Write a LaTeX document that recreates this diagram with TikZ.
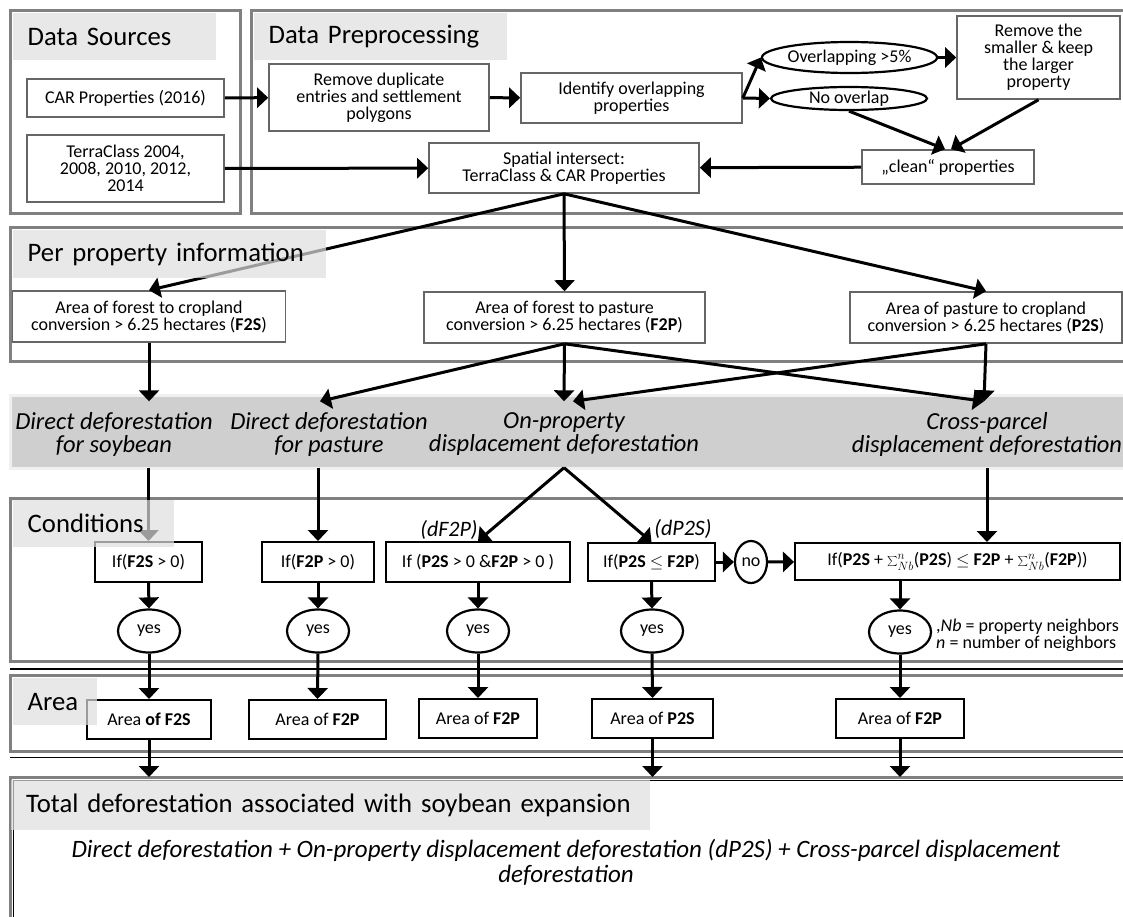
\documentclass[tikz,border=0pt]{standalone}
\usepackage{fontspec}
\setmainfont{Carlito}
\usetikzlibrary{arrows.meta,shapes.geometric}

\begin{document}
\begin{tikzpicture}[x=1pt,y=-1pt,every node/.style={font=\fontsize{18}{17}\selectfont,align=center,inner sep=0pt},frame/.style={draw=gray,line width=3pt},hdr/.style={anchor=north west,fill=gray!26,fill opacity=0.7,text opacity=1,align=left,inner xsep=15pt,text width=#1,minimum height=47pt,font=\fontsize{26.7}{30}\selectfont},gbox/.style={draw=black!60,line width=1.6pt,fill=white},bbox/.style={draw,line width=2pt,fill=white},oval/.style={draw,ellipse,line width=2.2pt,fill=white},band/.style={font=\fontsize{24.5}{23}\selectfont\itshape,minimum height=66pt},arr/.style={-{Triangle[length=11pt,width=20pt]},line width=3pt},lbl/.style={font=\fontsize{22}{22}\selectfont\itshape}]
\useasboundingbox (0,0) rectangle (1123,916);
\clip (0,0) rectangle (1123,916);
\draw[frame] (10,10) rectangle (240,213);
\draw[frame] (251,10) rectangle (1135,213);
\draw[frame] (10,227) rectangle (1135,361);
\draw[draw=gray!12,line width=3pt,fill=gray!38] (10,395) rectangle (1135,468);
\draw[frame] (10,498) rectangle (1135,661);
\draw[line width=1.8pt] (10,669) -- (1135,669);
\draw[frame] (10,675) rectangle (1135,751);
\draw[line width=1.8pt] (10,757.5) -- (1135,757.5);
\draw[frame] (10,777) rectangle (1135,930);
\draw[line width=1.2pt] (1135,780.5) -- (13.5,780.5) -- (13.5,930);
\coordinate (ttop) at (0,777);

\node[gbox,minimum width=197pt,minimum height=38pt] (car) at (125.5,98) {CAR Properties (2016)};
\node[gbox,minimum width=197pt,minimum height=67pt] (terra) at (125.5,168.5) {TerraClass 2004,\\2008, 2010, 2012,\\2014};
\node[gbox,minimum width=220pt,minimum height=67pt] (rdup) at (379,97.5) {Remove duplicate\\entries and settlement\\polygons};
\node[gbox,minimum width=221pt,minimum height=50pt] (ident) at (631.5,98) {Identify overlapping\\properties};
\node[oval,minimum width=155pt,minimum height=31pt] (over) at (849.5,57.5) {Overlapping >5\%};
\node[oval,minimum width=156pt,minimum height=23pt] (noov) at (849,98.5) {No overlap};
\node[gbox,minimum width=163pt,minimum height=83pt] (rsmall) at (1038.5,57.5) {Remove the\\smaller \& keep\\the larger\\property};
\node[gbox,minimum width=172pt,minimum height=34pt] (clean) at (948,167) {„clean“ properties};
\node[gbox,minimum width=270pt,minimum height=50pt] (spat) at (564,168) {Spatial intersect:\\TerraClass \& CAR Properties};

\node[gbox,minimum width=273pt,minimum height=51pt] (f2s) at (149,316.5) {Area of forest to cropland\\conversion > 6.25 hectares (\textbf{F2S})};
\node[gbox,minimum width=281pt,minimum height=51pt] (f2p) at (564.5,317.5) {Area of forest to pasture\\conversion > 6.25 hectares (\textbf{F2P})};
\node[gbox,minimum width=272pt,minimum height=51pt] (p2s) at (986,317.5) {Area of pasture to cropland\\conversion > 6.25 hectares (\textbf{P2S})};

\node[band] (dsoy) at (114,434.5) {Direct deforestation\\for soybean};
\node[band] (dpast) at (329,434.5) {Direct deforestation\\for pasture};
\node[band] (onprop) at (564,434.5) {On-property\\displacement deforestation};
\node[band] (cross) at (987,434.5) {Cross-parcel\\displacement deforestation};

\node[bbox,minimum width=107pt,minimum height=40pt] (c1) at (148.5,562) {If(\textbf{F2S} > 0)};
\node[bbox,minimum width=112pt,minimum height=40pt] (c2) at (318,562) {If(\textbf{F2P} > 0)};
\node[bbox,minimum width=184pt,minimum height=40pt] (c3) at (478,562) {If (\textbf{P2S} > 0 \&\textbf{F2P} > 0 )};
\node[bbox,minimum width=127pt,minimum height=38pt] (c4) at (651.5,562) {If(\textbf{P2S} $\leq$ \textbf{F2P})};
\node[oval,minimum width=32pt,minimum height=42pt] (no) at (751,562) {no};
\node[bbox,minimum width=325pt,minimum height=37pt] (c5) at (957.5,561.5) {If(\textbf{P2S} + $\sum\nolimits_{Nb}^{n}$(\textbf{P2S}) $\leq$ \textbf{F2P} + $\sum\nolimits_{Nb}^{n}$(\textbf{F2P}))};
\node[lbl] (lf2p) at (449,530) {(dF2P)};
\node[lbl] (lp2s) at (683,529) {(dP2S)};

\node[oval,minimum width=62pt,minimum height=43pt] (y1) at (149,631) {yes};
\node[oval,minimum width=62pt,minimum height=43pt] (y2) at (318,631) {yes};
\node[oval,minimum width=62pt,minimum height=43pt] (y3) at (478,631) {yes};
\node[oval,minimum width=62pt,minimum height=43pt] (y4) at (652,631) {yes};
\node[oval,minimum width=62pt,minimum height=43pt] (y5) at (900,632) {yes};
\node[anchor=west,align=left] (nbnote) at (936,635) {,\textit{Nb} = property neighbors\\\textit{n} = number of neighbors};

\node[bbox,minimum width=124pt,minimum height=39pt] (a1) at (149,719.5) {Area \textbf{of F2S}};
\node[bbox,minimum width=137pt,minimum height=39pt] (a2) at (317.5,719.5) {Area of \textbf{F2P}};
\node[bbox,minimum width=118pt,minimum height=39pt] (a3) at (478,718.5) {Area of \textbf{F2P}};
\node[bbox,minimum width=121pt,minimum height=39pt] (a4) at (652.5,718.5) {Area of \textbf{P2S}};
\node[bbox,minimum width=128pt,minimum height=39pt] (a5) at (900,718.5) {Area of \textbf{F2P}};

\node[font=\fontsize{25}{25}\selectfont\itshape] (sumtxt) at (566,862) {Direct deforestation + On-property displacement deforestation (dP2S) + Cross-parcel displacement\\deforestation};

\draw[arr] (car) -- (rdup);
\draw[arr] (rdup) -- (ident);
\draw[arr] (ident.east) -- (over.west);
\draw[arr] (ident.east) -- (noov.west);
\draw[arr] (over) -- (rsmall);
\draw[arr] (noov.south) -- ([xshift=-3pt]clean.north);
\draw[arr] (rsmall.south) -- ([xshift=3pt]clean.north);
\draw[arr] (clean) -- (spat);
\draw[arr] (terra) -- (spat);
\draw[arr] (spat.south) -- (f2s.north);
\draw[arr] (spat.south) -- (f2p.north);
\draw[arr] (spat.south) -- (p2s.north);
\draw[arr] (f2s.south) -- (f2s.south |- dsoy.north);
\draw[arr] (f2p.south) -- ([xshift=-9pt]dpast.north);
\draw[arr] (f2p.south) -- (onprop.north);
\draw[arr] (f2p.south) -- ([xshift=-3pt]cross.north);
\draw[arr] (p2s.south) -- ([xshift=-3pt]cross.north);
\draw[arr] (p2s.south) -- ([xshift=9pt]onprop.north);
\draw[arr] (c1.north |- dsoy.south) -- (c1.north);
\draw[arr] (c2.north |- dpast.south) -- (c2.north);
\draw[arr] (onprop.south) -- (c3.north);
\draw[arr] (onprop.south) -- (c4.north);
\draw[arr] (cross.south) -- (cross.south |- c5.north);
\draw[arr] (c4) -- (no);
\draw[arr] (no) -- (c5);
\foreach \i in {1,...,4}{
  \draw[arr] (c\i.south) -- (y\i.north);
}
\draw[arr] (y5.north |- c5.south) -- (y5.north);
\foreach \i in {1,...,5}{
  \draw[arr] (y\i.south) -- (a\i.north);
}
\draw[arr] (a1.south) -- (a1.south |- ttop);
\draw[arr] (a4.south) -- (a4.south |- ttop);
\draw[arr] (a5.south) -- (a5.south |- ttop);

\node[hdr=173pt] (hsrc) at (12.5,13) {Data Sources};
\node[hdr=223pt] (hpre) at (253.5,13) {Data Preprocessing};
\node[hdr=283pt,minimum height=48pt] (hper) at (12.5,230) {Per property information};
\node[hdr=131pt] (hcon) at (12.5,500) {Conditions};
\node[hdr=54pt] (hare) at (12.5,678) {Area};
\node[hdr=609pt,minimum height=50pt] (htot) at (11,780) {Total deforestation associated with soybean expansion};
\end{tikzpicture}
\end{document}
